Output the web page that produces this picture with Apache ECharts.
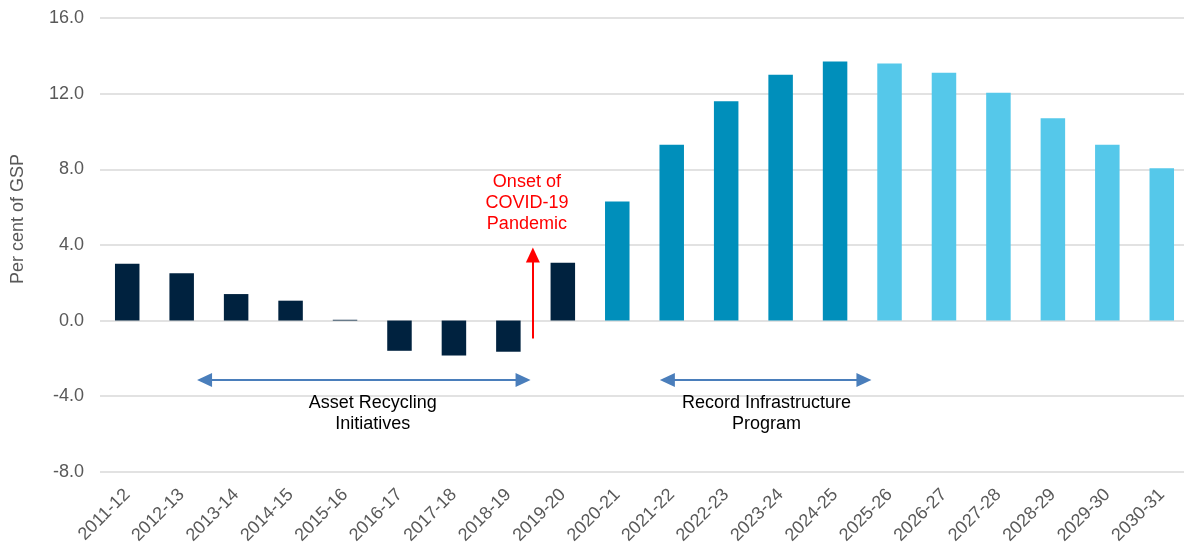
<!DOCTYPE html>
<html>
<head>
<meta charset="utf-8">
<script src="https://cdn.jsdelivr.net/npm/echarts@6/dist/echarts.min.js"></script>
<style>
  html, body { margin: 0; padding: 0; background: #fff; overflow: hidden; }
  #chart { width: 1189px; height: 547px; }
</style>
</head>
<body>
<div id="chart"></div>
<script>
  // financial years
  var years = ['2011-12', '2012-13', '2013-14', '2014-15', '2015-16', '2016-17', '2017-18',
    '2018-19', '2019-20', '2020-21', '2021-22', '2022-23', '2023-24', '2024-25',
    '2025-26', '2026-27', '2027-28', '2028-29', '2029-30', '2030-31'];
  // per cent of GSP
  var values = [3.0, 2.5, 1.4, 1.05, 0.04, -1.6, -1.85, -1.65, 3.05,
    6.3, 9.3, 11.6, 13.0, 13.7, 13.6, 13.1, 12.05, 10.7, 9.3, 8.05];
  var recordStart = '2020-21';
  var projectionStart = '2025-26';
  var yTicks = { min: -8, max: 16, interval: 4 };

  // annotations, in axis units (position along the years, value)
  var assetArrow = [[1.42, -3.14], [7.27, -3.14]];
  var recordArrow = [[9.92, -3.14], [13.53, -3.14]];
  var covidArrow = [[7.45, -0.95], [7.45, 3.47]];
  var notes = [
    { text: 'Onset of\nCOVID-19\nPandemic', at: [7.34, 6.22], color: '#ff0000' },
    { text: 'Asset Recycling\nInitiatives', at: [4.51, -4.93], color: '#000000' },
    { text: 'Record Infrastructure\nProgram', at: [11.74, -4.9], color: '#000000' }
  ];

  var FONT = '"Liberation Sans", Arial, sans-serif';
  var chart = echarts.init(document.getElementById('chart'));

  var colorFor = function (idx) {
    if (idx >= years.indexOf(projectionStart)) return '#55c8ea';
    if (idx >= years.indexOf(recordStart)) return '#008fbb';
    return '#00223f';
  };

  chart.setOption({
    animation: false,
    grid: { left: 100, right: 0, top: 18, bottom: 74 },
    xAxis: [{
      type: 'category',
      data: years,
      axisLine: { show: false },
      axisTick: { show: false },
      axisLabel: {
        rotate: 45,
        interval: 0,
        margin: 20,
        color: '#595959',
        fontSize: 18,
        fontFamily: FONT
      }
    }, {
      // same span as the categories, used to place the notes between them
      type: 'value',
      min: -0.5,
      max: years.length - 0.5,
      show: false
    }],
    yAxis: {
      type: 'value',
      min: yTicks.min,
      max: yTicks.max,
      interval: yTicks.interval,
      axisLine: { show: false },
      axisTick: { show: false },
      splitLine: { lineStyle: { color: '#d9d9d9', width: 1.6 } },
      axisLabel: {
        margin: 16,
        color: '#595959',
        fontSize: 18,
        fontFamily: FONT,
        formatter: function (v) { return v.toFixed(1); }
      }
    },
    graphic: [{
      type: 'text',
      x: 18,
      y: 219,
      rotation: Math.PI / 2,
      style: {
        text: 'Per cent of GSP',
        fill: '#595959',
        font: '18px ' + FONT,
        align: 'center',
        verticalAlign: 'middle'
      }
    }],
    series: [{
      type: 'bar',
      barWidth: '45%',
      data: values.map(function (v, i) {
        return { value: v, itemStyle: { color: colorFor(i) } };
      })
    }, {
      type: 'scatter',
      xAxisIndex: 1,
      silent: true,
      symbolSize: 0,
      itemStyle: { opacity: 1 },
      data: notes.map(function (n) {
        return {
          value: n.at,
          label: {
            show: true,
            position: 'inside',
            formatter: n.text,
            color: n.color,
            fontSize: 18,
            lineHeight: 21,
            fontFamily: FONT,
            align: 'center'
          }
        };
      }),
      markLine: {
        silent: true,
        animation: false,
        label: { show: false },
        emphasis: { disabled: true },
        symbolSize: [14, 15],
        lineStyle: { color: '#4a7ebb', width: 2, type: 'solid', opacity: 1 },
        itemStyle: { color: '#4a7ebb' },
        data: [
          [{ coord: assetArrow[0], symbol: 'triangle' }, { coord: assetArrow[1], symbol: 'triangle' }],
          [{ coord: recordArrow[0], symbol: 'triangle' }, { coord: recordArrow[1], symbol: 'triangle' }],
          [{ coord: covidArrow[0], symbol: 'none', lineStyle: { color: '#ff0000' } },
           { coord: covidArrow[1], symbol: 'triangle', itemStyle: { color: '#ff0000' }, lineStyle: { color: '#ff0000' } }]
        ]
      }
    }]
  });
</script>
</body>
</html>
